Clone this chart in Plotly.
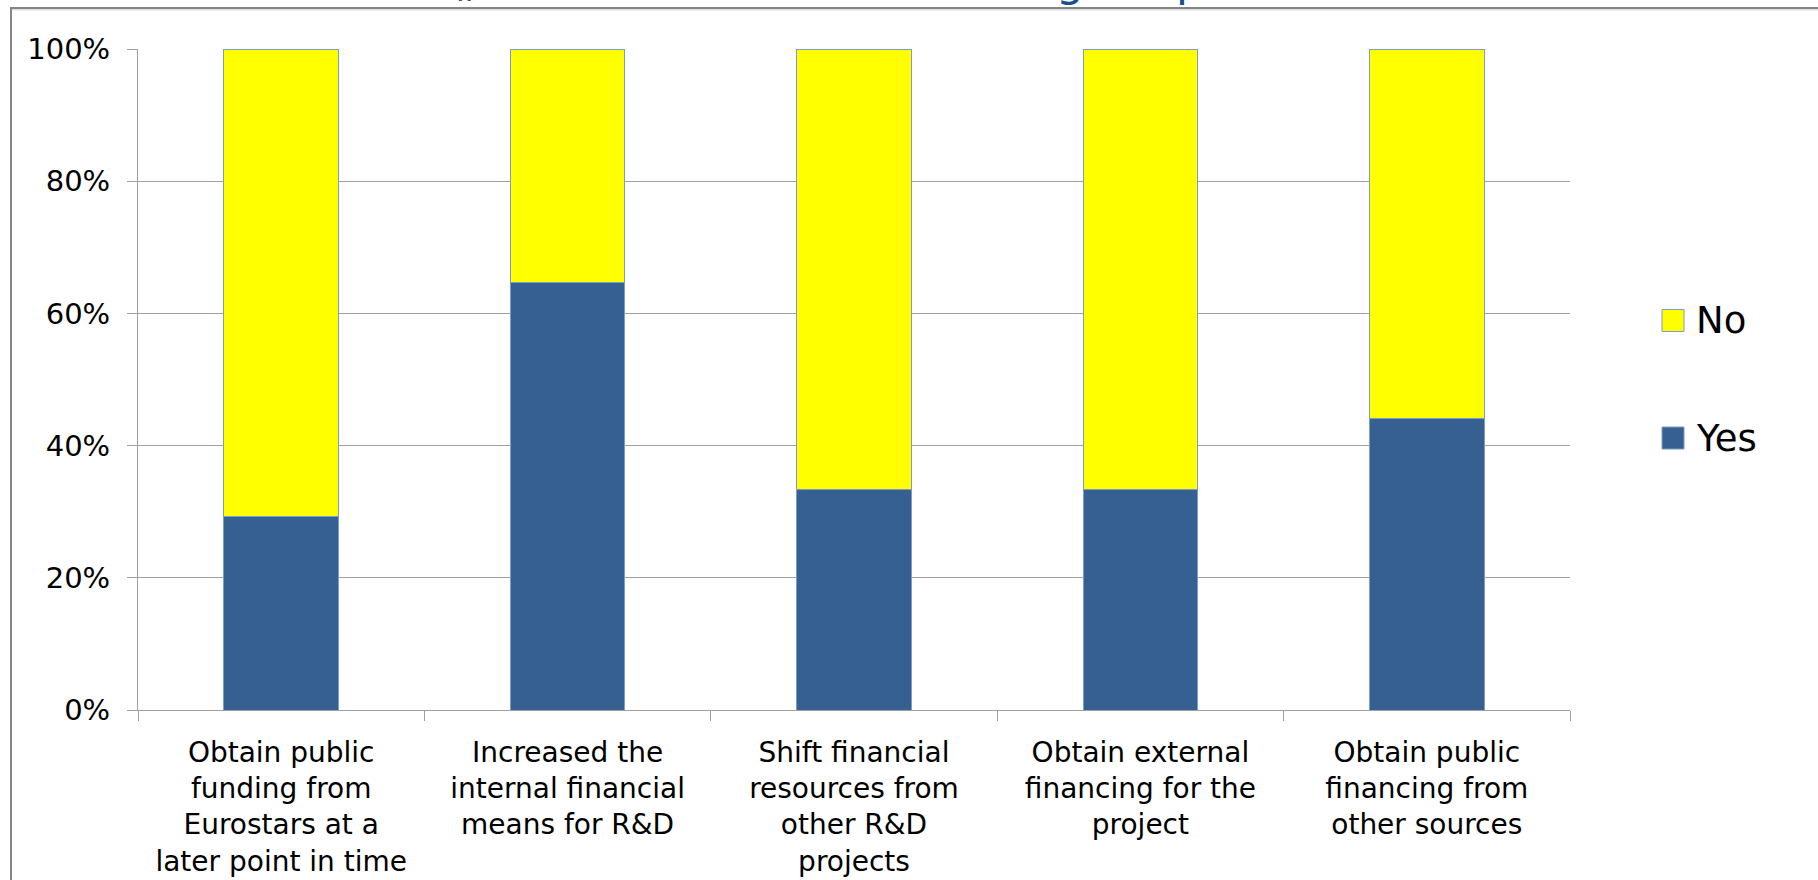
import plotly.graph_objects as go

# Survey answers per financing reaction (share of respondents, %)
categories = [
    "Obtain public funding from Eurostars at a later point in time",
    "Increased the internal financial means for R&D",
    "Shift financial resources from other R&D projects",
    "Obtain external financing for the project",
    "Obtain public financing from other sources",
]
tick_labels = [
    "Obtain public<br>funding from<br>Eurostars at a<br>later point in time",
    "Increased the<br>internal financial<br>means for R&D",
    "Shift financial<br>resources from<br>other R&D<br>projects",
    "Obtain external<br>financing for the<br>project",
    "Obtain public<br>financing from<br>other sources",
]
yes_pct = [29.2, 64.7, 33.3, 33.3, 44.1]
no_pct = [70.8, 35.3, 66.7, 66.7, 55.9]
y_ticks = [0, 20, 40, 60, 80, 100]
y_tick_labels = ["0%", "20%", "40%", "60%", "80%", "100%"]

W, H = 1818, 880
L, R, T, B = 138, 248, 49, 170
PW, PH = W - L - R, H - T - B


def px(x):
    return (x - L) / PW


def py(y):
    return (H - B - y) / PH


YES_COL = "#366092"
NO_COL = "#FFFF00"
EDGE = "#7c9dca"
GRID = "#a0a0a0"
FONT = "DejaVu Sans"

fig = go.Figure()
fig.add_bar(x=categories, y=yes_pct, name="Yes", showlegend=False,
            marker=dict(color=YES_COL, line=dict(color=EDGE, width=1)))
fig.add_bar(x=categories, y=no_pct, name="No", showlegend=False,
            marker=dict(color=NO_COL, line=dict(color=EDGE, width=1)))

shapes = [
    # outer frame (top and left edges)
    dict(type="line", xref="paper", yref="paper", x0=px(11), x1=px(W + 5),
         y0=py(8), y1=py(8), line=dict(color="#858585", width=2), layer="above"),
    dict(type="line", xref="paper", yref="paper", x0=px(11), x1=px(W + 5),
         y0=py(9.8), y1=py(9.8), line=dict(color="#cfcfcf", width=1), layer="above"),
    dict(type="line", xref="paper", yref="paper", x0=px(11), x1=px(11),
         y0=py(7), y1=py(H + 5), line=dict(color="#858585", width=2), layer="above"),
]

annotations = []
# legend keys
legend_items = [("No", NO_COL, 320.5), ("Yes", YES_COL, 438)]
for name, col, cy in legend_items:
    shapes.append(dict(type="rect", xref="paper", yref="paper",
                       x0=px(1662), x1=px(1684), y0=py(cy - 11), y1=py(cy + 11),
                       fillcolor=col, line=dict(color=EDGE, width=1)))
    annotations.append(dict(text=name, xref="paper", yref="paper",
                            x=px(1694), y=py(cy), xanchor="left", yanchor="middle",
                            showarrow=False, font=dict(family=FONT, size=37, color="#000")))

# title line running off the top edge
TITLE_COL = "#1b4f8c"
for txt, cx in [("\u201e", 466), ("g", 1070), ("p", 1190)]:
    annotations.append(dict(text=txt, xref="paper", yref="paper",
                            x=px(cx), y=py(-20), xanchor="center", yanchor="middle",
                            showarrow=False,
                            font=dict(family=FONT, size=44, color=TITLE_COL)))

fig.update_layout(
    width=W, height=H,
    margin=dict(l=L, r=R, t=T, b=B, pad=0, autoexpand=False),
    barmode="stack", bargap=0.6,
    plot_bgcolor="white", paper_bgcolor="white",
    showlegend=False,
    font=dict(family=FONT, size=29, color="#000"),
    shapes=shapes, annotations=annotations,
    xaxis=dict(type="category", tickvals=categories, ticktext=tick_labels,
               tickson="boundaries", ticks="outside", ticklen=10, tickcolor=GRID,
               ticklabelstandoff=17, automargin=False,
               showline=True, linecolor=GRID, linewidth=1, showgrid=False,
               range=[-0.5, 4.5], tickfont=dict(family=FONT, size=28, color="#000")),
    yaxis=dict(range=[0, 100], tickmode="array", tickvals=y_ticks, ticktext=y_tick_labels,
               ticks="outside", ticklen=10, tickcolor=GRID, ticklabelstandoff=11,
               automargin=False,
               showline=True, linecolor=GRID, linewidth=1,
               showgrid=True, gridcolor=GRID, gridwidth=1, zeroline=False,
               tickfont=dict(family=FONT, size=29, color="#000")),
)

fig.write_html("out.html")
